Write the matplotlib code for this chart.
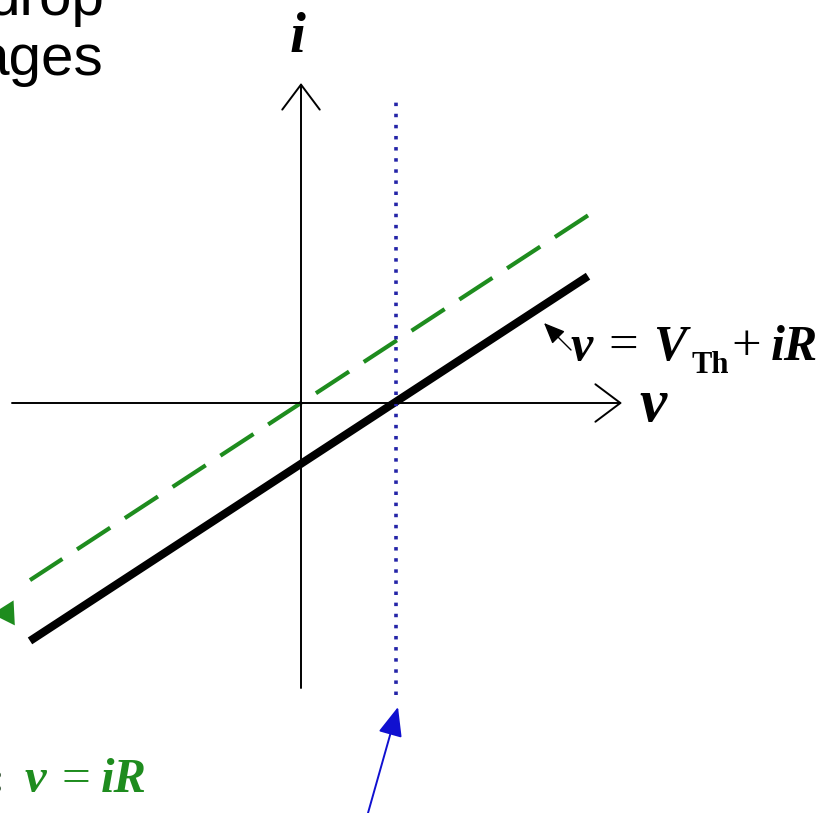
import numpy as np
import matplotlib.pyplot as plt

plt.rcParams['lines.scale_dashes'] = False

# v-i plane values (arbitrary units, origin where the axes cross)
R = 1.53
V_th = 0.93
v_axis = [-2.89, 3.21]
i_axis = [-2.85, 3.20]
v_load = np.array([2.87, -2.71])      # green dashed: v = iR
v_thev = np.array([-2.71, 2.87])      # black: v = V_th + iR
i_dotted = [-2.92, 3.05]
green_head = [(-2.89, -2.10), (-3.09, -2.11)]
blue_arrow = [(0.67, -4.10), (0.97, -3.04)]
label_arrow = [(2.70, 0.53), (2.43, 0.80)]

GREEN = '#1e8c1e'
BLUE_DOT = '#2424a8'
BLUE = '#1010d0'

serif = dict(fontfamily='Liberation Serif', fontweight='bold',
             fontstyle='italic', va='baseline', ha='left')
upright = dict(fontfamily='Liberation Serif', fontweight='bold',
               va='baseline', ha='left')

fig = plt.figure(figsize=(8.29, 8.13), dpi=100)
ax = fig.add_axes([0, 0, 1, 1])
ax.set_xlim(-3.01, 5.28)
ax.set_ylim(-4.10, 4.03)
ax.axis('off')

# axes with open arrowheads
for xy, xytext in [((v_axis[1], 0), (v_axis[0], 0)),
                   ((0, i_axis[1]), (0, i_axis[0]))]:
    ax.annotate('', xy=xy, xytext=xytext,
                arrowprops=dict(arrowstyle='->,head_length=1.8,head_width=1.35',
                                lw=1.4, color='black', shrinkA=0, shrinkB=0))

# load line v = iR
ax.plot(v_load, v_load / R, color=GREEN, lw=3, dashes=(28.5, 12.6))
ax.annotate('', xy=green_head[1], xytext=green_head[0], annotation_clip=False,
            arrowprops=dict(arrowstyle='-|>,head_length=1.6,head_width=0.9',
                            lw=0, color=GREEN, shrinkA=0, shrinkB=0))

# Thevenin line v = V_th + iR
ax.plot(v_thev, (v_thev - V_th) / R, color='black', lw=5.8, solid_capstyle='butt')

# dotted vertical at V_th
ax.plot([V_th + 0.02, V_th + 0.02], i_dotted, color=BLUE_DOT, lw=2.6,
        dashes=(2.5, 5.5))

# pointer arrows
ax.annotate('', xy=blue_arrow[1], xytext=blue_arrow[0], annotation_clip=False,
            arrowprops=dict(arrowstyle='-|>,head_length=1.8,head_width=0.75',
                            lw=1.4, color=BLUE, shrinkA=0, shrinkB=0))
ax.annotate('', xy=label_arrow[1], xytext=label_arrow[0],
            arrowprops=dict(arrowstyle='-|>,head_length=1.3,head_width=0.55',
                            lw=1.0, color='black', shrinkA=0, shrinkB=0))

# equation v = V_Th + iR
ax.text(2.70, 0.43, 'v', fontsize=36, **serif)
ax.text(3.07, 0.43, '=', fontsize=38, fontfamily='Liberation Serif',
        va='baseline', ha='left')
ax.text(3.52, 0.43, 'V', fontsize=36, **serif)
ax.text(3.91, 0.30, 'Th', fontsize=22, **upright)
ax.text(4.30, 0.43, '+', fontsize=38, fontfamily='Liberation Serif',
        va='baseline', ha='left')
ax.text(4.70, 0.43, 'iR', fontsize=36, **serif)

# axis labels
ax.text(3.38, -0.18, 'v', fontsize=44, **serif)
ax.text(-0.04, 3.51, 'i', fontsize=41, fontfamily='Liberation Serif',
        fontweight='bold', fontstyle='italic', va='baseline', ha='center')

# green equation v = iR
ax.text(-2.76, -3.89, 'v', fontsize=35, color=GREEN, **serif)
ax.text(-2.40, -3.89, '=', fontsize=37, color=GREEN,
        fontfamily='Liberation Serif', va='baseline', ha='left')
ax.text(-2.00, -3.89, 'iR', fontsize=35, color=GREEN, **serif)
ax.text(-2.97, -3.89, ':', fontsize=32, ha='right', va='baseline',
        color='#2a4a2a', fontfamily='Liberation Serif', fontweight='bold')

# cut-off slide text top left
ax.text(-1.96, 3.88, 'drop', fontsize=42, ha='right', va='baseline',
        fontfamily='Liberation Sans')
ax.text(-1.98, 3.28, 'ages', fontsize=42, ha='right', va='baseline',
        fontfamily='Liberation Sans')

fig.savefig('out.png', dpi=100)
